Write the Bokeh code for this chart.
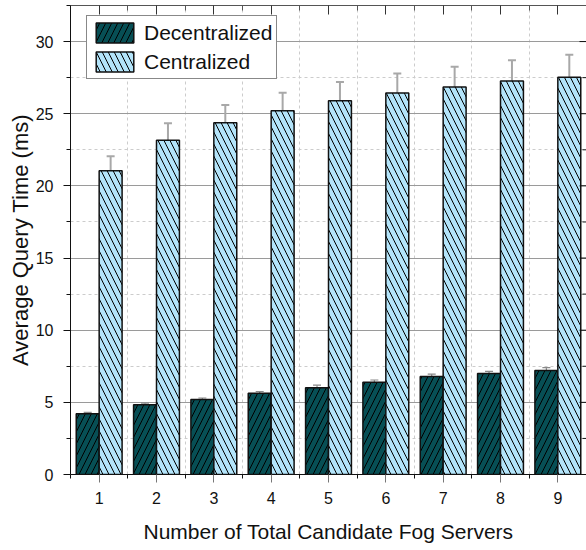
import math
from bokeh.plotting import figure
from bokeh.models import (ColumnDataSource, FixedTicker, LinearAxis,
                          Whisker, TeeHead, Legend, LegendItem, Range1d, CustomLabelingPolicy)
from bokeh.transform import dodge
from bokeh.embed import file_html
from bokeh.resources import INLINE

# ---- data ----
servers = [1, 2, 3, 4, 5, 6, 7, 8, 9]
decentralized = [4.21, 4.83, 5.20, 5.63, 6.01, 6.40, 6.79, 7.00, 7.21]
decentralized_err = [0.10, 0.12, 0.10, 0.12, 0.18, 0.15, 0.17, 0.15, 0.20]
centralized = [21.05, 23.17, 24.37, 25.20, 25.90, 26.44, 26.85, 27.27, 27.53]
centralized_err = [1.00, 1.17, 1.23, 1.25, 1.30, 1.35, 1.40, 1.43, 1.55]
series_names = ["Decentralized", "Centralized"]
y_major_ticks = [0, 5, 10, 15, 20, 25, 30]
y_minor_ticks = [2.5, 7.5, 12.5, 17.5, 22.5, 27.5, 32.5]
x_label = "Number of Total Candidate Fog Servers"
y_label = "Average Query Time (ms)"

FONT = "Liberation Sans"
DEC_COLOR = "#074f55"
CEN_COLOR = "#b3e4fa"

src = ColumnDataSource(dict(
    x=servers,
    dec=decentralized,
    dec_lo=[v - e for v, e in zip(decentralized, decentralized_err)],
    dec_hi=[v + e for v, e in zip(decentralized, decentralized_err)],
    cen=centralized,
    cen_lo=[v - e for v, e in zip(centralized, centralized_err)],
    cen_hi=[v + e for v, e in zip(centralized, centralized_err)],
))

x_end = max(servers) + 0.5
p = figure(width=586, height=550, output_backend="svg", toolbar_location=None,
           x_range=Range1d(min(servers) - 0.5, x_end),
           y_range=Range1d(0, 32.5),
           min_border_left=70, min_border_right=0, min_border_top=5, min_border_bottom=76)
p.outline_line_color = None
p.background_fill_color = "white"
p.border_fill_color = "white"

# bars
r_dec = p.vbar(x=dodge("x", -0.2), top="dec", width=0.4, bottom=0, source=src,
               fill_color=DEC_COLOR, line_color="#111111", line_width=1.5,
               hatch_pattern="/", hatch_color="#000000", hatch_scale=12, hatch_weight=1)
r_cen = p.vbar(x=dodge("x", 0.2), top="cen", width=0.4, bottom=0, source=src,
               fill_color=CEN_COLOR, line_color="#111111", line_width=1.5,
               hatch_pattern="\\", hatch_color="#000000", hatch_scale=12, hatch_weight=1)

# error bars
w1 = Whisker(base=dodge("x", -0.2), upper="dec_hi", lower="dec_lo", source=src,
             line_color="#8a8a8a", line_width=1.2,
             upper_head=TeeHead(size=8, line_color="#8a8a8a", line_width=1.2),
             lower_head=TeeHead(size=8, line_color="#8a8a8a", line_width=1.2))
w2 = Whisker(base=dodge("x", 0.2), upper="cen_hi", lower="cen_lo", source=src,
             line_color="#a8a8a8", line_width=2,
             upper_head=TeeHead(size=8, line_color="#a8a8a8", line_width=2),
             lower_head=TeeHead(size=8, line_color="#a8a8a8", line_width=2))
p.add_layout(w1)
p.add_layout(w2)

# tickers
xt = FixedTicker(ticks=servers, minor_ticks=[s + 0.5 for s in servers] + [servers[0] - 0.5])
yt = FixedTicker(ticks=y_major_ticks, minor_ticks=y_minor_ticks)

# bottom axis
ax = p.xaxis[0]
ax.ticker = xt
ax.axis_label = x_label
ax.axis_label_text_font = FONT
ax.axis_label_text_font_size = "21px"
ax.axis_label_text_font_style = "normal"
ax.axis_label_text_color = "#111111"
ax.axis_label_standoff = 13
ax.major_label_text_font = FONT
ax.major_label_text_font_size = "16px"
ax.major_label_text_color = "#111111"
ax.major_label_standoff = 9
ax.major_tick_out = 8
ax.major_tick_in = 0
ax.minor_tick_out = 4
ax.minor_tick_in = 0
ax.axis_line_color = "#111111"
ax.major_tick_line_color = "#777777"
ax.minor_tick_line_color = "#111111"

# left axis
ay = p.yaxis[0]
ay.ticker = yt
ay.axis_label = y_label
ay.axis_label_text_font = FONT
ay.axis_label_text_font_size = "22px"
ay.axis_label_text_font_style = "normal"
ay.axis_label_text_color = "#111111"
ay.axis_label_standoff = 0
ay.major_label_text_font = FONT
ay.major_label_text_font_size = "16px"
ay.major_label_text_color = "#111111"
ay.major_label_standoff = 10
ay.major_tick_out = 7
ay.major_tick_in = 0
ay.minor_tick_out = 4
ay.minor_tick_in = 0
ay.axis_line_color = "#111111"
ay.major_tick_line_color = "#111111"
ay.minor_tick_line_color = "#111111"

# top axis (ticks inward, no labels)
top = LinearAxis(ticker=xt, major_label_text_font_size="1px", major_label_standoff=0,
                 major_label_policy=CustomLabelingPolicy(code="return []"),
                 major_tick_in=9, major_tick_out=0, minor_tick_in=5, minor_tick_out=0,
                 axis_line_color="#555555", major_tick_line_color="#333333",
                 minor_tick_line_color="#555555")
p.add_layout(top, "above")

# right-edge inward ticks
p.ray(x=[x_end] * len(y_major_ticks), y=y_major_ticks, length=7, length_units="screen",
      angle=math.pi, line_color="#111111", line_width=1)
p.ray(x=[x_end] * len(y_minor_ticks), y=y_minor_ticks, length=4, length_units="screen",
      angle=math.pi, line_color="#111111", line_width=1)

# grids
p.ygrid.ticker = yt
p.ygrid.grid_line_color = "#9a9a9a"
p.ygrid.grid_line_width = 1
p.ygrid.minor_grid_line_color = "#cccccc"
p.ygrid.minor_grid_line_dash = "3 3"
p.xgrid.ticker = FixedTicker(ticks=[s + 0.5 for s in servers[:-1]])
p.xgrid.grid_line_color = "#cccccc"
p.xgrid.grid_line_dash = "3 3"

# legend
legend = Legend(items=[LegendItem(label=series_names[0], renderers=[r_dec]),
                       LegendItem(label=series_names[1], renderers=[r_cen])],
                location=(16, 395))
legend.label_text_font = FONT
legend.label_text_font_size = "21px"
legend.label_text_color = "#111111"
legend.glyph_width = 47
legend.glyph_height = 25
legend.label_height = 25
legend.label_standoff = 6
legend.spacing = 4
legend.padding = 4
legend.margin = 0
legend.border_line_color = "#111111"
legend.border_line_width = 1
legend.background_fill_alpha = 1
p.add_layout(legend)

open("out.html", "w").write(file_html(p, INLINE))
